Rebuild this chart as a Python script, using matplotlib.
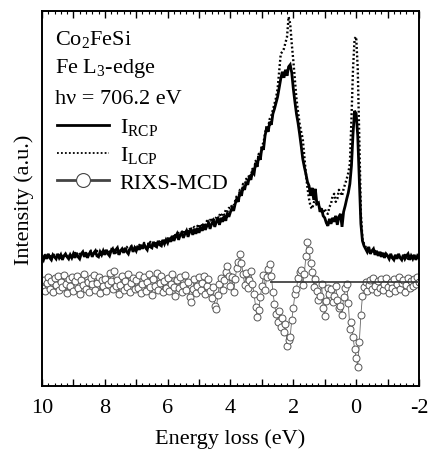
"""RIXS spectra of Co2FeSi at the Fe L3-edge: I_RCP, I_LCP and RIXS-MCD."""
import numpy as np
import matplotlib
matplotlib.use("Agg")
import matplotlib.pyplot as plt
from matplotlib.lines import Line2D
from matplotlib.ticker import MultipleLocator, FuncFormatter

plt.rcParams["font.family"] = ["Liberation Serif", "DejaVu Serif"]
plt.rcParams["mathtext.default"] = "regular"
plt.rcParams["axes.unicode_minus"] = False

# energy loss grid (eV), from 10 down to -2 in 0.05 eV steps
energy = np.round(np.arange(10.0, -2.001, -0.05), 2)

# right circular polarisation (solid)
i_rcp = [
    2.5, 2.2, 2.7, 2.3, 2.8, 2.4, 2.2, 2.7, 2.5, 2.3, 2.8, 2.4, 2.7, 2.2, 2.6, 2.8, 2.5, 2.3, 2.7, 2.4,
    2.8, 2.4, 2.9, 2.5, 2.3, 2.8, 3.0, 2.5, 2.9, 2.4, 2.8, 3.0, 2.5, 2.9, 3.1, 2.6, 2.5, 3.0, 2.7, 3.1,
    2.7, 3.2, 2.8, 2.6, 3.1, 3.3, 2.8, 3.2, 3.4, 2.7, 3.1, 3.3, 2.9, 3.4, 3.0, 2.8, 3.3, 3.5, 3.0, 3.4,
    3.1, 3.6, 3.2, 3.7, 3.3, 3.8, 3.4, 3.2, 3.9, 3.5, 3.4, 4.0, 3.6, 3.5, 4.1, 3.7, 3.6, 4.2, 3.8, 4.2,
    3.9, 4.4, 4.0, 4.6, 4.1, 4.5, 4.8, 4.2, 4.7, 4.9, 4.4, 4.8, 5.1, 4.5, 5.0, 5.2, 4.7, 5.3, 4.8, 5.4,
    4.9, 5.5, 5.1, 5.7, 5.2, 5.6, 5.9, 5.3, 5.8, 6.1, 5.5, 6.0, 6.3, 5.7, 6.4, 6.0, 6.6, 6.1, 6.9, 6.5,
    7.0, 7.4, 7.1, 7.8, 8.3, 8.0, 9.0, 8.6, 9.5, 9.2, 10.0, 9.7, 10.5, 10.2, 11.0, 10.8, 11.9, 11.5, 12.6, 12.2,
    13.5, 13.2, 14.6, 15.4, 15.0, 16.0, 15.7, 16.8, 17.3, 17.9, 18.5, 19.4, 20.3, 21.0, 20.4, 21.2, 20.6, 21.5, 21.7, 20.9,
    19.3, 18.0, 16.8, 15.9, 14.8, 13.6, 12.3, 11.5, 10.8, 10.0, 9.6, 8.6, 9.4, 8.2, 9.3, 7.8, 7.9, 7.0, 7.3, 6.6,
    6.4, 5.9, 5.6, 6.3, 5.8, 6.4, 6.0, 6.6, 5.7, 6.5, 6.8, 5.5, 7.0, 7.6, 8.3, 8.9, 9.8, 11.6, 14.8, 17.1,
    16.8, 14.6, 10.3, 5.8, 4.1, 3.6, 3.3, 3.0, 3.5, 2.8, 3.1, 3.3, 2.7, 3.1, 2.6, 3.0, 2.5, 2.9, 2.4, 2.8,
    2.6, 2.3, 2.8, 2.4, 2.2, 2.7, 2.3, 2.8, 2.4, 2.2, 2.7, 2.3, 2.6, 2.8, 2.2, 2.6, 2.3, 2.7, 2.2, 2.6,
    2.4,
]

# left circular polarisation (dotted)
i_lcp = [
    2.6, 2.4, 2.7, 2.5, 2.8, 2.4, 2.6, 2.5, 2.7, 2.3, 2.6, 2.8, 2.5, 2.6, 2.4, 2.7, 2.5, 2.8, 2.6, 2.7,
    2.6, 2.9, 2.7, 2.5, 2.8, 2.6, 3.0, 2.7, 2.9, 2.6, 2.8, 3.1, 2.7, 2.9, 2.8, 3.1, 2.9, 2.7, 3.0, 2.9,
    3.1, 2.9, 3.2, 3.0, 3.3, 3.0, 3.2, 2.9, 3.4, 3.1, 3.3, 3.0, 3.4, 3.2, 3.5, 3.1, 3.3, 3.6, 3.2, 3.4,
    3.5, 3.3, 3.7, 3.4, 3.6, 3.9, 3.5, 3.7, 3.6, 4.0, 3.7, 3.9, 3.6, 4.1, 3.8, 4.0, 4.2, 3.9, 4.1, 4.3,
    4.3, 4.5, 4.2, 4.7, 4.4, 4.8, 4.5, 4.9, 4.6, 5.0, 4.8, 5.2, 4.9, 5.1, 5.4, 5.0, 5.3, 5.5, 5.2, 5.6,
    5.4, 5.8, 5.5, 5.9, 5.7, 6.1, 5.8, 6.2, 6.0, 6.4, 6.1, 6.5, 6.3, 6.7, 6.5, 6.9, 6.7, 7.2, 7.0, 7.4,
    7.3, 7.7, 7.6, 8.1, 8.6, 8.3, 9.2, 8.9, 9.8, 9.5, 10.3, 10.0, 10.8, 10.6, 11.3, 11.1, 12.1, 11.8, 12.8, 12.5,
    13.6, 13.9, 14.8, 15.6, 15.4, 16.3, 16.6, 17.2, 17.8, 18.4, 19.3, 21.0, 22.8, 23.0, 23.3, 23.9, 24.5, 26.5, 25.8, 23.8,
    22.1, 20.2, 18.3, 17.0, 15.8, 15.0, 14.3, 12.5, 10.8, 9.4, 8.3, 7.5, 7.3, 7.9, 8.3, 7.6, 7.8, 7.2, 7.3, 7.0,
    7.3, 6.9, 6.8, 7.5, 7.8, 8.6, 8.8, 8.0, 8.3, 9.2, 9.0, 8.6, 9.3, 9.8, 10.3, 10.9, 11.8, 16.3, 21.3, 24.3,
    24.5, 21.3, 14.3, 6.8, 4.3, 3.8, 3.5, 3.2, 3.3, 3.0, 3.2, 2.9, 3.1, 2.8, 3.0, 2.7, 2.9, 2.6, 2.8, 2.6,
    2.7, 2.5, 2.6, 2.4, 2.7, 2.5, 2.6, 2.3, 2.6, 2.5, 2.4, 2.7, 2.5, 2.3, 2.6, 2.4, 2.6, 2.5, 2.3, 2.5,
    2.4,
]

# dichroism RIXS-MCD (open circles)
mcd = [
    -0.6, 0.2, -0.9, -0.1, 0.5, -0.7, 0.1, -1.0, 0.4, -0.3, 0.6, -0.8, 0.0, -0.5, 0.7, -0.2, -1.1, 0.3, -0.4, 0.5,
    -0.9, 0.1, 0.6, -0.6, -1.2, 0.2, -0.3, 0.8, -0.7, 0.0, -1.0, 0.4, -0.2, 0.7, -0.8, -0.1, 0.5, -1.1, 0.2, -0.4,
    0.3, -0.9, -0.2, 0.9, 0.1, -0.7, 1.1, -0.4, 0.2, -1.2, -0.3, 0.6, -0.8, 0.1, -0.5, 0.8, -1.0, -0.1, 0.4, -0.7,
    0.2, -0.6, 0.7, -1.1, -0.2, 0.5, -0.9, 0.0, 0.8, -0.5, -1.3, 0.3, -0.4, 0.9, -0.8, -0.1, 0.6, -1.0, 0.1, -0.6,
    0.4, -0.9, -0.2, 0.8, -0.5, -1.4, 0.2, -0.6, 0.5, -1.0, -0.3, 0.7, -0.8, 0.0, -1.5, -2.0, -0.7, 0.3, -1.1, -0.4,
    0.5, -0.8, -0.1, 0.6, -1.2, -0.4, 0.3, -0.9, -1.6, -0.5, -2.4, -2.7, -1.3, -0.2, 0.4, -0.8, 0.2, 1.0, 1.6, 0.6,
    -0.4, 0.5, -1.0, 0.3, 1.4, 2.0, 2.8, 1.9, 0.8, -0.3, 0.9, -0.6, 0.2, 1.1, -0.2, -1.2, -2.5, -3.5, -2.8, -1.5,
    -0.4, 0.7, -0.8, 0.5, 1.3, 1.8, 0.6, -1.0, -2.2, -3.2, -4.0, -2.9, -4.5, -3.6, -5.0, -4.2, -6.4, -5.8, -5.5, -3.8,
    -2.6, -1.2, -0.7, 0.4, 1.0, 1.2, -0.3, 0.8, 2.6, 4.0, 3.2, 1.9, 1.0, -0.5, 0.3, -0.9, -1.8, -1.4, -0.2, -2.6,
    -3.4, -1.9, -0.6, -1.2, -0.7, -2.0, -1.4, -0.4, -1.8, -2.6, -2.4, -3.3, -1.5, -0.6, -0.2, -2.1, -4.7, -4.0, -5.5, -6.7,
    -7.6, -8.5, -6.0, -3.3, -1.4, -0.5, 0.0, -0.9, -0.3, 0.2, -0.7, 0.4, -0.4, -1.0, 0.1, -0.6, 0.3, -0.8, -0.2, 0.4,
    -0.5, -1.1, 0.0, -0.6, 0.3, -0.9, -0.2, 0.5, -0.7, -0.1, 0.2, -1.0, -0.3, 0.4, -0.6, 0.1, -0.4, 0.3, -0.2, 0.5,
    0.0,
]

fig = plt.figure(figsize=(4.28, 4.52), dpi=100)
ax = fig.add_axes([0.098, 0.144, 0.881, 0.830])

ax.plot(energy, i_rcp, color="black", lw=2.0, solid_joinstyle="miter")
ax.plot(energy, i_lcp, color="black", lw=1.7, ls=(0, (0.8, 1.0)))
ax.plot(energy, mcd, color="#666666", lw=0.6, marker="o", ms=5,
        mfc="white", mec="#555555", mew=0.7)
ax.hlines(0, 2.75, -2, color="#333333", lw=1.2, zorder=5)

ax.set_xlim(10, -2)
ax.set_ylim(-10.4, 27.1)
ax.set_yticks([])
ax.xaxis.set_major_locator(MultipleLocator(1))
ax.xaxis.set_minor_locator(MultipleLocator(0.2))
ax.xaxis.set_major_formatter(FuncFormatter(
    lambda v, p: f"{v:.0f}" if round(v) % 2 == 0 else ""))
ax.tick_params(axis="x", which="both", direction="in", top=True, labelsize=16, pad=9)
ax.tick_params(axis="x", which="major", length=5, width=1)
ax.tick_params(axis="x", which="minor", length=2.5, width=0.8)
for s in ax.spines.values():
    s.set_linewidth(1.4)

ax.set_xlabel("Energy loss (eV)", fontsize=16, labelpad=8)
ax.set_ylabel("Intensity (a.u.)", fontsize=16, labelpad=6)

txt = dict(transform=ax.transAxes, fontsize=16, va="center", ha="left")
ax.text(0.035, 0.927, "Co$_2$FeSi", **txt)
ax.text(0.035, 0.850, "Fe L$_3$-edge", **txt)
ax.text(0.035, 0.766, "hν = 706.2 eV", **txt)

handles = [
    Line2D([], [], color="black", lw=2),
    Line2D([], [], color="black", lw=1.3, ls=(0, (1, 1.2))),
    Line2D([], [], color="#444444", lw=2, marker="o", ms=10, mfc="white",
           mec="#444444", mew=0.8),
]
ax.legend(handles, ["I$_{RCP}$", "I$_{LCP}$", "RIXS-MCD"], loc="upper left",
          bbox_to_anchor=(0.0, 0.76), frameon=False, fontsize=16,
          handlelength=2.3, handletextpad=0.5, labelspacing=0.32,
          borderaxespad=0.3)

fig.savefig("out.png", dpi=100)
